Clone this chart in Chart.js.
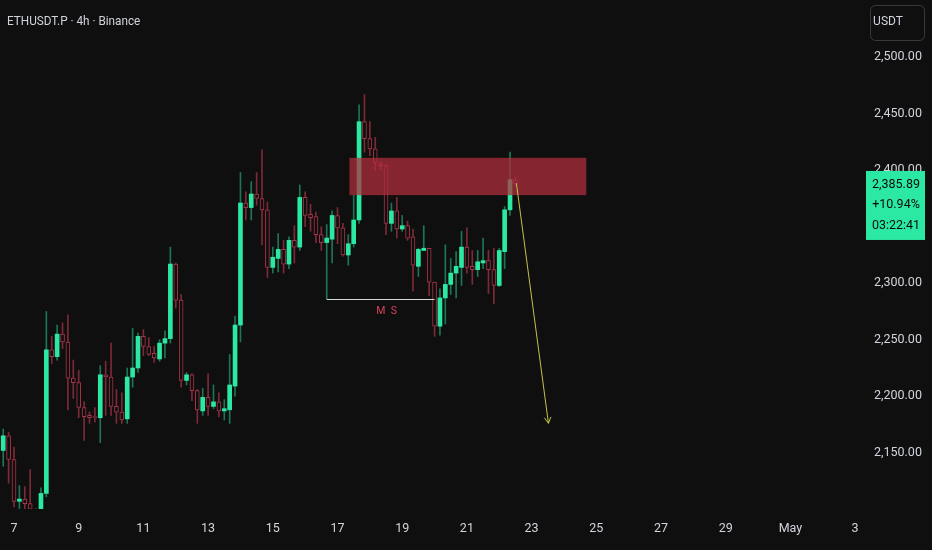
<!DOCTYPE html>
<html>
<head>
<meta charset="utf-8">
<script src="https://cdn.jsdelivr.net/npm/chart.js@4.4.1/dist/chart.umd.min.js"></script>
<style>
  html, body { margin: 0; padding: 0; background: #0f0f0f; }
  #wrap { width: 932px; height: 550px; }
</style>
</head>
<body>
<div id="wrap"><canvas id="chart" width="932" height="550"></canvas></div>
<script>
// ETHUSDT.P 4h candles, first one opens Apr 6 16:00
const startDay = 6 + 16 / 24;
const opens  = [2150,2163,2142,2105,2107,2103,2098,2085,2112,2239,2233,2253,2246,2214,2210,2188,2181,2180,2179,2217,
                2215,2189,2184,2178,2215,2223,2251,2242,2236,2231,2245,2249,2315,2283,2212,2217,2203,2185,2197,2189,
                2193,2185,2186,2207,2261,2369,2365,2377,2373,2363,2312,2320,2328,2315,2336,2330,2374,2359,2357,2341,
                2334,2337,2358,2347,2323,2333,2354,2441,2426,2417,2404,2402,2351,2362,2346,2349,2339,2313,2327,2329,
                2299,2260,2285,2297,2307,2312,2330,2313,2310,2316,2318,2310,2296,2326,2363,2389.6];
const highs  = [2169,2166,2153,2119,2118,2133,2098.5,2117,2273,2251,2261,2263,2270,2230,2221,2193,2184,2188,2225,2229,
                2245,2204,2201,2223,2258,2254,2257,2250,2242,2248,2256,2330,2316,2288,2219,2218,2204,2205,2218,2208,
                2201,2195,2235,2269,2396,2379,2388,2396,2416,2370,2330,2342,2336,2339,2349,2385,2379,2368,2361,2348,
                2350,2362,2365,2351,2341,2376,2456,2465,2441,2427,2406,2403,2369,2374,2358,2353,2346,2329,2349,2329,
                2299,2293,2332,2320,2326,2344,2347,2327,2327,2338,2327,2329,2329,2366,2414,2392];
const lows   = [2136,2121,2100,2098,2098,2097,2075,2080,2109,2227,2230,2240,2186,2196,2179,2159,2174,2175,2157,2181,
                2181,2174,2174,2174,2206,2219,2234,2234,2228,2229,2232,2245,2276,2206,2208,2194,2174,2181,2181,2187,
                2180,2177,2174,2198,2246,2354,2354,2367,2332,2303,2307,2308,2307,2311,2316,2327,2348,2344,2334,2327,
                2284,2316,2333,2322,2314,2330,2351,2414,2411,2398,2398,2341,2344,2338,2344,2336,2291,2304,2327,2287,
                2251,2252,2262,2288,2285,2296,2307,2297,2304,2311,2289,2280,2295,2311,2358,2384];
const closes = [2163,2142,2105,2107,2103,2098,2085,2112,2239,2233,2253,2246,2214,2210,2188,2180,2179,2179,2217,2215,
                2189,2184,2177,2215,2223,2251,2242,2235,2232,2245,2249,2315,2283,2212,2217,2203,2186,2197,2189,2193,
                2185,2187,2208,2261,2369,2365,2377,2373,2363,2312,2321,2328,2315,2336,2330,2374,2358,2356,2341,2334,
                2338,2358,2347,2323,2333,2354,2441,2426,2417,2405,2402,2351,2362,2346,2349,2338,2314,2328,2329,2299,
                2260,2285,2297,2307,2313,2330,2312,2310,2317,2318,2310,2296,2327,2363,2389.6,2385.89];

const tickDays   = [7, 9, 11, 13, 15, 17, 19, 21, 23, 25, 27, 29, 31, 33];
const tickLabels = ['7', '9', '11', '13', '15', '17', '19', '21', '23', '25', '27', '29', 'May', '3'];
const priceTicks = [2150, 2200, 2250, 2300, 2350, 2400, 2450, 2500];

// drawings on top of the chart
const zoneDays   = [17.37, 24.69];
const zonePrices = [2376, 2409];
const msStart = 60;          // candle whose low the MS line starts from
const msEndDay = 20.0;
const arrowFrom = [22.53, 2386.5];
const arrowTo   = [23.52, 2174];
const lastPrice = 2385.89;
const changeText = '+10.94%';
const timerText = '03:22:41';

const BG = '#0f0f0f';
const UP = '#2be8a3';
const UP_WICK = '#1c7556';
const DOWN = '#a83449';
const DOWN_WICK = '#7c2a38';
const TEXT = '#d1d4dc';
const FONT = 'Roboto, "Liberation Sans", sans-serif';

function candleDay(i) {
    return startDay + i / 6;
}

function fmtPrice(v) {
    return v.toLocaleString('en-US', { minimumFractionDigits: 2, maximumFractionDigits: 2 });
}

const isUp = opens.map((o, i) => closes[i] >= o);

const wickData = lows.map((l, i) => ({ x: candleDay(i), y: [l, highs[i]] }));
const bodyData = opens.map((o, i) => ({ x: candleDay(i), y: [o, closes[i]] }));

const overlay = {
    id: 'overlay',
    beforeDraw(chart) {
        const ctx = chart.ctx;
        ctx.save();
        ctx.fillStyle = BG;
        ctx.fillRect(0, 0, chart.width, chart.height);
        ctx.restore();
    },
    afterDatasetsDraw(chart) {
        const ctx = chart.ctx;
        const x = chart.scales.x;
        const y = chart.scales.y;
        ctx.save();

        // supply zone
        const zx0 = x.getPixelForValue(zoneDays[0]);
        const zx1 = x.getPixelForValue(zoneDays[1]);
        const zy0 = y.getPixelForValue(zonePrices[1]);
        const zy1 = y.getPixelForValue(zonePrices[0]);
        ctx.fillStyle = 'rgba(178, 46, 60, 0.72)';
        ctx.fillRect(zx0, zy0, zx1 - zx0, zy1 - zy0);

        // market structure line
        const my = Math.round(y.getPixelForValue(lows[msStart])) + 0.5;
        const mx0 = x.getPixelForValue(candleDay(msStart));
        const mx1 = x.getPixelForValue(msEndDay);
        ctx.strokeStyle = '#d8d8d8';
        ctx.lineWidth = 1;
        ctx.beginPath();
        ctx.moveTo(mx0, my);
        ctx.lineTo(mx1, my);
        ctx.stroke();
        ctx.fillStyle = '#d8405a';
        ctx.font = '10.5px ' + FONT;
        ctx.textAlign = 'center';
        ctx.textBaseline = 'middle';
        ctx.fillText('M  S', (mx0 + mx1) / 2 + 6, my + 12);

        // projected move arrow
        const ax0 = x.getPixelForValue(arrowFrom[0]);
        const ay0 = y.getPixelForValue(arrowFrom[1]);
        const ax1 = x.getPixelForValue(arrowTo[0]);
        const ay1 = y.getPixelForValue(arrowTo[1]);
        ctx.strokeStyle = '#c4c247';
        ctx.lineWidth = 1;
        ctx.beginPath();
        ctx.moveTo(ax0, ay0);
        ctx.lineTo(ax1, ay1);
        ctx.stroke();
        const ang = Math.atan2(ay1 - ay0, ax1 - ax0);
        const head = 7;
        ctx.beginPath();
        ctx.moveTo(ax1 - head * Math.cos(ang - 0.5), ay1 - head * Math.sin(ang - 0.5));
        ctx.lineTo(ax1, ay1);
        ctx.lineTo(ax1 - head * Math.cos(ang + 0.5), ay1 - head * Math.sin(ang + 0.5));
        ctx.stroke();

        ctx.restore();
    },
    afterDraw(chart) {
        const ctx = chart.ctx;
        const y = chart.scales.y;
        ctx.save();

        // symbol title (narrowed to match the condensed look)
        ctx.save();
        ctx.translate(7, 22);
        ctx.scale(0.87, 1);
        ctx.fillStyle = TEXT;
        ctx.font = '13.5px ' + FONT;
        ctx.textAlign = 'left';
        ctx.textBaseline = 'middle';
        ctx.fillText('ETHUSDT.P \u00b7 4h \u00b7 Binance', 0, 0);
        ctx.restore();

        // currency box
        ctx.strokeStyle = '#3a3a3a';
        ctx.lineWidth = 1;
        ctx.beginPath();
        ctx.roundRect(870.5, 5.5, 54, 35, 5);
        ctx.stroke();
        ctx.fillStyle = TEXT;
        ctx.font = '12px ' + FONT;
        ctx.textAlign = 'center';
        ctx.textBaseline = 'middle';
        ctx.fillText('USDT', 888, 22);

        // last price label
        const py = y.getPixelForValue(lastPrice);
        ctx.fillStyle = UP;
        ctx.fillRect(866, py - 13, 59, 69);
        ctx.fillStyle = '#0b0b0b';
        ctx.font = '12.5px ' + FONT;
        ctx.textAlign = 'center';
        ctx.fillText(fmtPrice(lastPrice), 896, py + 1);
        ctx.fillText(changeText, 896, py + 21);
        ctx.fillText(timerText, 896, py + 42);

        ctx.restore();
    }
};

new Chart(document.getElementById('chart'), {
    type: 'bar',
    data: {
        datasets: [
            {
                label: 'body',
                data: bodyData,
                order: 1,
                grouped: false,
                barThickness: 4,
                minBarLength: 1,
                borderSkipped: false,
                backgroundColor: isUp.map(u => u ? UP : BG),
                borderColor: isUp.map(u => u ? UP : DOWN),
                borderWidth: isUp.map(u => u ? 0 : 1)
            },
            {
                label: 'wick',
                data: wickData,
                order: 2,
                grouped: false,
                barThickness: 1,
                borderWidth: 0,
                backgroundColor: isUp.map(u => u ? UP_WICK : DOWN_WICK)
            }
        ]
    },
    options: {
        responsive: false,
        animation: false,
        events: [],
        layout: { padding: 0 },
        plugins: {
            legend: { display: false },
            tooltip: { enabled: false }
        },
        scales: {
            x: {
                type: 'linear',
                min: 7 - 14 / 32.35,
                max: 7 + 851 / 32.35,
                offset: false,
                grid: { display: false, drawTicks: false },
                border: { display: false },
                afterBuildTicks: scale => {
                    scale.ticks = tickDays.map(v => ({ value: v }));
                },
                afterFit: scale => {
                    scale.height = 41;
                    scale.paddingLeft = 0;
                    scale.paddingRight = 0;
                },
                ticks: {
                    color: TEXT,
                    font: { family: FONT, size: 12.5 },
                    padding: 12,
                    maxRotation: 0,
                    autoSkip: false,
                    callback: v => tickLabels[tickDays.indexOf(v)]
                }
            },
            y: {
                position: 'right',
                min: 2098.2,
                max: 2548.7,
                grid: { display: false, drawTicks: false },
                border: { display: false },
                afterBuildTicks: scale => {
                    scale.ticks = priceTicks.map(v => ({ value: v }));
                },
                afterFit: scale => {
                    scale.width = 67;
                    scale.paddingTop = 0;
                    scale.paddingBottom = 0;
                },
                ticks: {
                    color: TEXT,
                    font: { family: FONT, size: 12.5 },
                    padding: 9,
                    labelOffset: 2,
                    callback: v => fmtPrice(v)
                }
            }
        }
    },
    plugins: [overlay]
});
</script>
</body>
</html>
